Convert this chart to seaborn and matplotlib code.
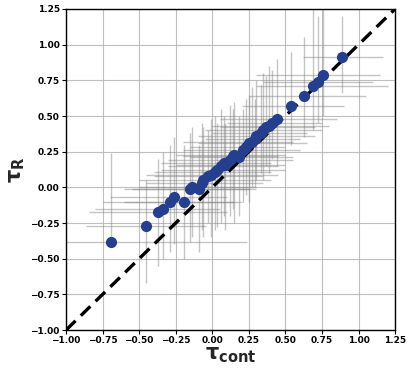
import matplotlib
matplotlib.use("Agg")
import matplotlib.pyplot as plt
import seaborn as sns
import numpy as np
import pandas as pd

tau_cont = [-0.69, -0.45, -0.37, -0.34, -0.29, -0.26, -0.19, -0.15, -0.14, -0.09,
            -0.07, -0.06, -0.03, -0.01, 0.02, 0.03, 0.06, 0.08, 0.09, 0.12,
            0.14, 0.15, 0.18, 0.21, 0.23, 0.25, 0.27, 0.29, 0.30, 0.33,
            0.35, 0.37, 0.39, 0.41, 0.44, 0.54, 0.63, 0.69, 0.72, 0.76, 0.89]
tau_r = [-0.38, -0.27, -0.17, -0.15, -0.10, -0.07, -0.10, -0.01, 0.00, -0.01,
         0.03, 0.05, 0.08, 0.09, 0.11, 0.12, 0.15, 0.17, 0.16, 0.19,
         0.22, 0.23, 0.21, 0.26, 0.28, 0.31, 0.32, 0.34, 0.36, 0.38,
         0.40, 0.42, 0.43, 0.45, 0.48, 0.57, 0.64, 0.71, 0.74, 0.79, 0.91]
x_low = [-1.00, -0.86, -0.84, -0.80, -0.75, -0.70, -0.60, -0.55, -0.50, -0.60,
         -0.45, -0.50, -0.40, -0.45, -0.40, -0.35, -0.30, -0.35, -0.25, -0.30,
         -0.20, -0.25, -0.15, -0.20, -0.15, -0.10, -0.20, -0.05, -0.10, 0.00,
         -0.05, 0.05, 0.00, 0.10, 0.05, 0.20, 0.25, 0.30, 0.35, 0.30, 0.62]
x_high = [0.24, -0.04, 0.10, 0.05, 0.15, 0.10, 0.20, 0.25, 0.30, 0.30,
          0.35, 0.40, 0.35, 0.45, 0.40, 0.50, 0.45, 0.40, 0.50, 0.55,
          0.45, 0.50, 0.55, 0.60, 0.50, 0.65, 0.55, 0.60, 0.70, 0.65,
          0.75, 0.70, 0.80, 0.75, 0.85, 0.90, 1.05, 1.20, 1.10, 1.15, 1.17]
y_low = [-0.40, -0.67, -0.55, -0.50, -0.45, -0.40, -0.50, -0.38, -0.35, -0.45,
         -0.30, -0.35, -0.25, -0.35, -0.30, -0.28, -0.25, -0.20, -0.30, -0.20,
         -0.15, -0.25, -0.20, -0.10, -0.05, -0.10, 0.00, 0.00, 0.05, 0.10,
         0.05, 0.15, 0.10, 0.20, 0.15, 0.30, 0.35, 0.40, 0.45, 0.50, 0.66]
y_high = [0.24, 0.05, 0.20, 0.25, 0.30, 0.35, 0.30, 0.38, 0.42, 0.30,
          0.45, 0.42, 0.40, 0.48, 0.50, 0.45, 0.55, 0.50, 0.45, 0.58,
          0.55, 0.60, 0.50, 0.55, 0.62, 0.65, 0.70, 0.62, 0.75, 0.72,
          0.80, 0.78, 0.85, 0.82, 0.90, 0.95, 1.05, 1.25, 1.20, 1.25, 1.20]
ticks = [-1.00, -0.75, -0.50, -0.25, 0.00, 0.25, 0.50, 0.75, 1.00, 1.25]

df = pd.DataFrame({"tau_cont": tau_cont, "tau_r": tau_r})
xc = np.array(tau_cont)
yc = np.array(tau_r)
xerr = np.vstack([xc - np.array(x_low), np.array(x_high) - xc])
yerr = np.vstack([yc - np.array(y_low), np.array(y_high) - yc])

sns.set_style("ticks")
plt.rcParams['mathtext.default'] = 'bf'

fig = plt.figure(figsize=(4.15, 3.73), dpi=100)
ax = fig.add_axes([0.159, 0.115, 0.793, 0.861])
ax.grid(True, color="#b0b0b0", linewidth=0.8, alpha=0.8, zorder=0)
ax.set_axisbelow(True)

ax.errorbar(xc, yc, xerr=xerr, yerr=yerr, fmt="none", ecolor="gray",
            elinewidth=1.0, alpha=0.45, capsize=0, zorder=1)
ax.plot([-1, 1.25], [-1, 1.25], linestyle=(0, (4, 2.2)), color="black",
        linewidth=2.4, zorder=2)
sns.scatterplot(data=df, x="tau_cont", y="tau_r", ax=ax, color="#253f8e",
                s=65, edgecolor="#253f8e", linewidth=0, zorder=3, legend=False)

ax.set_xlim(-1, 1.25)
ax.set_ylim(-1, 1.25)
ax.set_xticks(ticks)
ax.set_yticks(ticks)
ax.set_xticklabels([f"{t:.2f}".replace("-", "\u2212") for t in ticks],
                   fontsize=6.5, fontweight="bold")
ax.set_yticklabels([f"{t:.2f}".replace("-", "\u2212") for t in ticks],
                   fontsize=6.5, fontweight="bold")
ax.tick_params(length=3, width=0.8, pad=1.5, colors="black")
for s in ax.spines.values():
    s.set_color("black")
    s.set_linewidth(1.0)
ax.set_xlabel(r"$\tau_{cont}$", fontsize=15, labelpad=0)
ax.set_ylabel(r"$\tau_{R}$", fontsize=15, labelpad=2)

fig.savefig("out.png", dpi=100)
